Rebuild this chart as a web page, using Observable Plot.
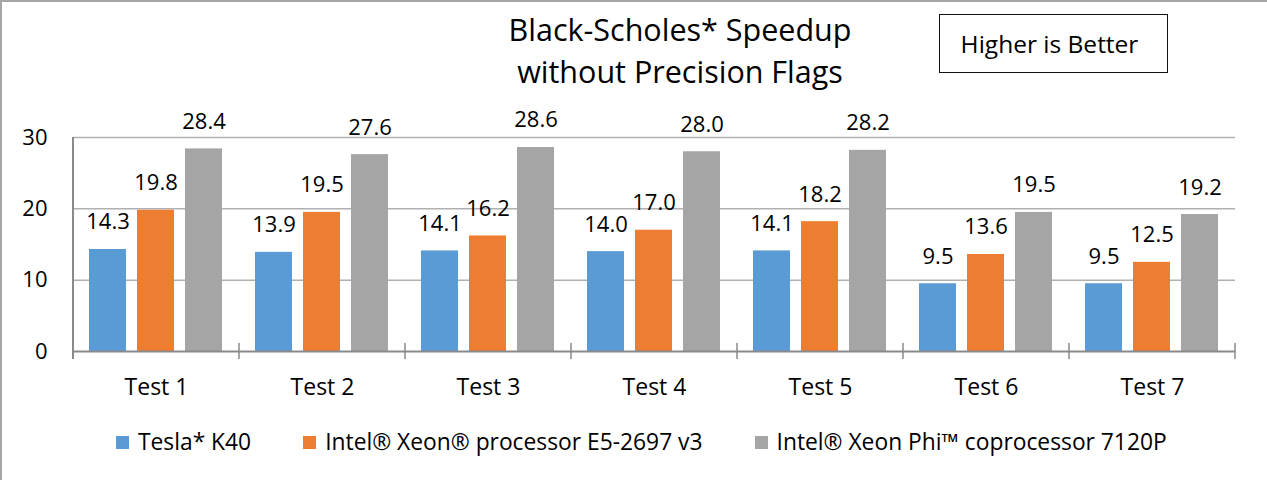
<!DOCTYPE html>
<html>
<head>
<meta charset="utf-8">
<script src="https://cdn.jsdelivr.net/npm/d3@7"></script>
<script src="https://cdn.jsdelivr.net/npm/@observablehq/plot@0.6"></script>
<style>
  html, body { margin: 0; padding: 0; background: #fff; }
  #wrap { position: relative; width: 1267px; height: 480px; overflow: hidden; font-family: "Open Sans", sans-serif; color: #000; }
  #wrap svg { position: absolute; left: 0; top: 0; }
  #title { position: absolute; left: 380px; top: 9px; width: 600px; text-align: center; font-size: 30.5px; line-height: 41.5px; }
  #note { position: absolute; left: 939px; top: 14px; width: 229px; height: 59px; box-sizing: border-box; border: 1.5px solid #111; display: flex; align-items: center; justify-content: center; font-size: 24.5px; padding-right: 8px; }
  #legend { position: absolute; left: 116px; top: 428px; height: 28px; display: flex; align-items: center; gap: 52px; font-size: 22.8px; line-height: 28px; white-space: nowrap; }
  .item { display: flex; align-items: center; gap: 9px; }
  .sw { width: 13px; height: 13px; display: inline-block; }
  #border { position: absolute; left: 0; top: 0; width: 1267px; height: 480px; box-sizing: border-box; border-top: 2px solid #a6a6a6; border-left: 2px solid #a6a6a6; pointer-events: none; }
</style>
</head>
<body>
<div id="wrap">
  <div id="title">Black-Scholes* Speedup<br>without Precision Flags</div>
  <div id="note">Higher is Better</div>
  <div id="legend"></div>
  <div id="border"></div>
</div>
<script>
const tests = ["Test 1", "Test 2", "Test 3", "Test 4", "Test 5", "Test 6", "Test 7"];
const series = ["Tesla* K40", "Intel® Xeon® processor E5-2697 v3", "Intel® Xeon Phi™ coprocessor 7120P"];
const tesla = [14.3, 13.9, 14.1, 14.0, 14.1, 9.5, 9.5];
const xeon = [19.8, 19.5, 16.2, 17.0, 18.2, 13.6, 12.5];
const phi = [28.4, 27.6, 28.6, 28.0, 28.2, 19.5, 19.2];
const colors = ["#5b9bd5", "#ed7d31", "#a5a5a5"];
const yTicks = [0, 10, 20, 30];

const values = [tesla, xeon, phi];
const data = [];
tests.forEach((t, i) => series.forEach((s, j) => data.push({test: t, series: s, value: values[j][i]})));

const plot = Plot.plot({
  width: 1267,
  height: 405,
  marginLeft: 70,
  marginRight: 29,
  marginTop: 137,
  marginBottom: 54,
  style: {fontFamily: "Open Sans, sans-serif", fontSize: "22px", color: "#000", background: "transparent"},
  fx: {domain: tests, padding: 0, axis: null},
  x: {domain: series, paddingInner: 0.224, paddingOuter: 0.316, axis: null},
  y: {domain: [0, 30], ticks: yTicks, tickSize: 0, tickPadding: 26, label: null},
  color: {domain: series, range: colors},
  marks: [
    Plot.axisFx({anchor: "bottom", tickSize: 0, tickPadding: 27, fontSize: 23, label: null}),
    Plot.gridY(yTicks.slice(1), {stroke: "#b0b0b0", strokeOpacity: 1, strokeWidth: 1.5}),
    Plot.barY(data, {fx: "test", x: "series", y: "value", fill: "series"}),
    Plot.ruleY([0], {stroke: "#8a8a8a", strokeWidth: 2}),
    Plot.text(data, {fx: "test", x: "series", y: "value", text: d => d.value.toFixed(1), lineAnchor: "bottom", dy: -20, fill: "#000"})
  ]
});

// Category boundary ticks and left value axis line (Excel-style axis decorations)
const fx = plot.scale("fx");
const ys = plot.scale("y");
const y0 = ys.apply(0), y30 = ys.apply(30);
const bounds = tests.map(t => fx.apply(t)).concat([fx.apply(tests[tests.length - 1]) + fx.bandwidth]);
const svg = d3.select(plot);
const g = svg.append("g").attr("stroke", "#8a8a8a");
g.append("line").attr("x1", bounds[0]).attr("x2", bounds[0]).attr("y1", y30).attr("y2", y0 + 8).attr("stroke-width", 2);
g.selectAll("line.tk").data(bounds.slice(1)).join("line").attr("class", "tk")
  .attr("x1", d => d).attr("x2", d => d).attr("y1", y0 - 8).attr("y2", y0 + 8).attr("stroke-width", 1.5);

document.getElementById("wrap").prepend(plot);

const legend = d3.select("#legend");
series.forEach((s, j) => {
  const it = legend.append("div").attr("class", "item");
  it.append("span").attr("class", "sw").style("background", colors[j]);
  it.append("span").text(s);
});
</script>
</body>
</html>
